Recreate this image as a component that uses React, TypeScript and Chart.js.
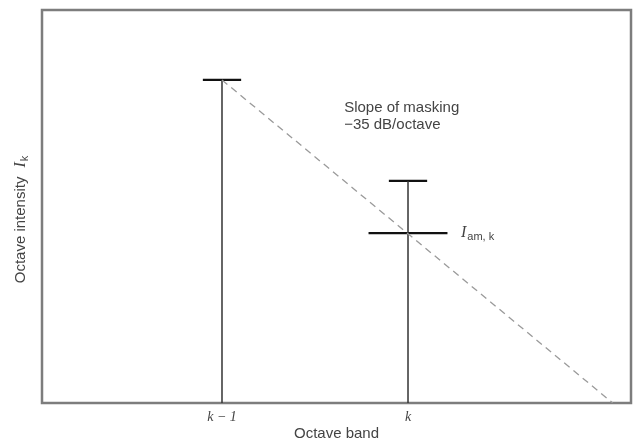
import React, { useEffect, useRef } from "react";
import { Chart, registerables } from "chart.js";

Chart.register(...registerables);

// Band positions along the octave-band axis (0..100 scale)
const bandPositions = [30.56, 62.14];
const bandLabels = ["k − 1", "k"];
// Octave intensities (relative units, 0..100)
const bandIntensity = [82.2, 56.5];
// Masked intensity I_am,k at band k
const maskedIntensity = 43.2;
// Masking slope line: start (at k−1 peak) and end (at floor)
const slopeX = [30.56, 96.9];
const slopeY = [82.2, 0];

const CAP_HALF = 3.25;
const MASK_HALF = 6.7;

const TEXT_COLOR = "#444";
const SANS = "'Liberation Sans', Arial, Helvetica, sans-serif";
const SERIF = "'Liberation Serif', 'Times New Roman', serif";

const overlayPlugin = {
  id: "overlay",
  beforeDatasetsDraw(chart: any) {
    const { ctx, chartArea } = chart;
    ctx.save();
    ctx.strokeStyle = "#7d7d7d";
    ctx.lineWidth = 2.5;
    ctx.strokeRect(
      chartArea.left,
      chartArea.top,
      chartArea.right - chartArea.left,
      chartArea.bottom - chartArea.top
    );
    ctx.restore();
  },
  afterDatasetsDraw(chart: any) {
    const { ctx, chartArea, scales } = chart;
    const xs = scales.x;
    const ys = scales.y;
    ctx.save();
    ctx.fillStyle = TEXT_COLOR;
    ctx.textBaseline = "middle";
    ctx.textAlign = "left";
    // Slope annotation
    ctx.font = `15px ${SANS}`;
    ctx.fillText("Slope of masking", xs.getPixelForValue(51.3), ys.getPixelForValue(75.0));
    ctx.fillText("−35 dB/octave", xs.getPixelForValue(51.3), ys.getPixelForValue(70.7));
    // I_am,k label
    let lx = xs.getPixelForValue(bandPositions[1] + MASK_HALF + 2.3);
    const ly = ys.getPixelForValue(maskedIntensity);
    ctx.font = `italic 16px ${SERIF}`;
    ctx.fillText("I", lx, ly);
    lx += ctx.measureText("I").width + 1;
    ctx.font = `11px ${SANS}`;
    ctx.fillText("am, k", lx, ly + 4);

    // Y axis title (rotated)
    const cx = chartArea.left - 21;
    const cy = (chartArea.top + chartArea.bottom) / 2 + 13;
    ctx.translate(cx, cy);
    ctx.rotate(-Math.PI / 2);
    ctx.font = `15px ${SANS}`;
    const t1 = "Octave intensity";
    const w1 = ctx.measureText(t1).width;
    ctx.font = `italic 16px ${SERIF}`;
    const wI = ctx.measureText("I").width;
    ctx.font = `11px ${SANS}`;
    const wk = ctx.measureText("k").width;
    const gap = 9;
    const total = w1 + gap + wI + 1 + wk;
    let px = -total / 2;
    ctx.font = `15px ${SANS}`;
    ctx.fillText(t1, px, 0);
    px += w1 + gap;
    ctx.font = `italic 16px ${SERIF}`;
    ctx.fillText("I", px, 0);
    px += wI + 1;
    ctx.font = `11px ${SANS}`;
    ctx.fillText("k", px, 4);
    ctx.restore();
  },
};

export default function App() {
  const canvasRef = useRef<HTMLCanvasElement | null>(null);

  useEffect(() => {
    if (!canvasRef.current) return;
    const stem = (i: number) => ({
      data: [
        { x: bandPositions[i], y: 0 },
        { x: bandPositions[i], y: bandIntensity[i] },
      ],
      borderColor: "#333",
      borderWidth: 1.5,
    });
    const cap = (i: number) => ({
      data: [
        { x: bandPositions[i] - CAP_HALF, y: bandIntensity[i] },
        { x: bandPositions[i] + CAP_HALF, y: bandIntensity[i] },
      ],
      borderColor: "#111",
      borderWidth: 2.2,
    });
    const datasets: any[] = [
      {
        data: [
          { x: slopeX[0], y: slopeY[0] },
          { x: slopeX[1], y: slopeY[1] },
        ],
        borderColor: "#9a9a9a",
        borderWidth: 1.3,
        borderDash: [7, 5],
      },
      stem(0),
      cap(0),
      stem(1),
      cap(1),
      {
        data: [
          { x: bandPositions[1] - MASK_HALF, y: maskedIntensity },
          { x: bandPositions[1] + MASK_HALF, y: maskedIntensity },
        ],
        borderColor: "#111",
        borderWidth: 2.2,
      },
    ].map((d) => ({ ...d, showLine: true, pointRadius: 0, fill: false }));

    const chart = new Chart(canvasRef.current, {
      type: "scatter",
      data: { datasets },
      plugins: [overlayPlugin],
      options: {
        animation: false,
        responsive: true,
        maintainAspectRatio: false,
        layout: { padding: { left: 42, top: 10, right: 7, bottom: 0 } },
        plugins: {
          legend: { display: false },
          tooltip: { enabled: false },
        },
        scales: {
          x: {
            type: "linear",
            min: 0,
            max: 100,
            grid: { display: false, drawTicks: false },
            border: { display: false },
            afterBuildTicks: (scale: any) => {
              scale.ticks = bandPositions.map((v) => ({ value: v }));
            },
            afterFit: (scale: any) => {
              scale.height = 40;
            },
            ticks: {
              autoSkip: false,
              maxRotation: 0,
              padding: 6,
              color: TEXT_COLOR,
              font: { family: SERIF, size: 14, style: "italic" },
              callback: (value: any) => {
                const i = bandPositions.indexOf(Number(value));
                return i >= 0 ? bandLabels[i] : "";
              },
            },
            title: {
              display: true,
              text: "Octave band",
              color: TEXT_COLOR,
              font: { family: SANS, size: 15 },
              padding: { top: 0, bottom: 0 },
            },
          },
          y: {
            type: "linear",
            display: false,
            min: 0,
            max: 100,
          },
        },
      } as any,
    });
    return () => chart.destroy();
  }, []);

  return (
    <div style={{ position: "fixed", left: 0, top: 0, width: 638, height: 443 }}>
      <canvas ref={canvasRef} />
    </div>
  );
}
